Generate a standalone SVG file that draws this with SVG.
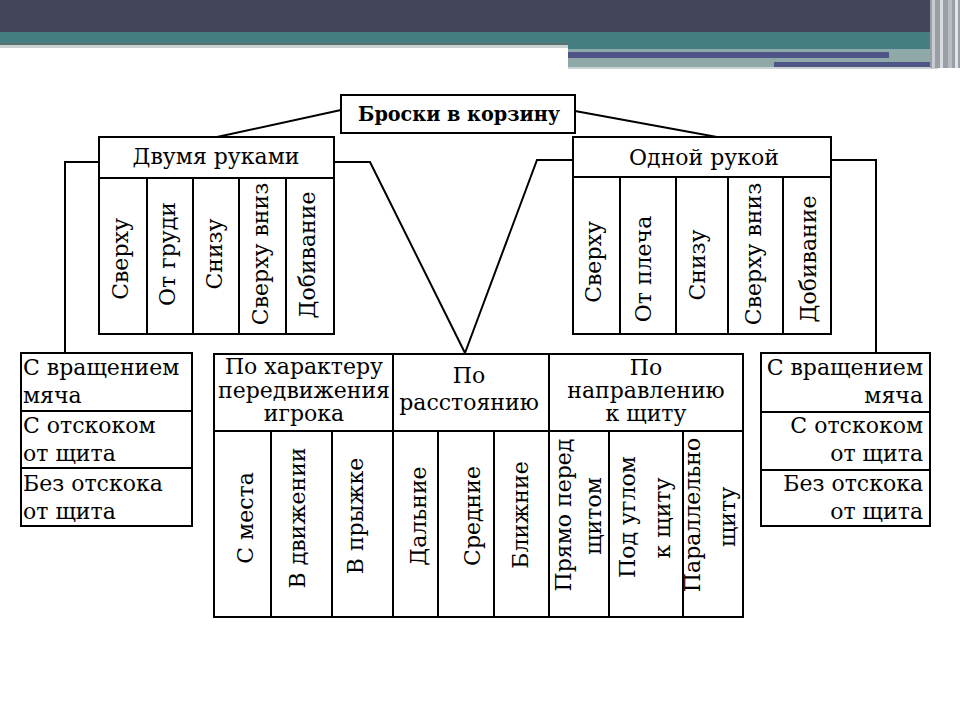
<svg xmlns="http://www.w3.org/2000/svg" width="960" height="720" viewBox="0 0 960 720">
<style>
.b{fill:#fff;stroke:#000;stroke-width:2}
.l{fill:none;stroke:#000;stroke-width:2}
text{font-family:"DejaVu Serif","Liberation Serif",serif;font-size:22px;fill:#000}
.c{text-anchor:middle}
.r{text-anchor:end}
.t{font-weight:bold;font-size:20px}
</style>
<rect width="960" height="720" fill="#fff"/>
<g id="header-bar">
<rect x="0" y="0" width="960" height="32" fill="#43455a"/>
<rect x="0" y="32" width="568" height="11" fill="#457e80"/>
<rect x="0" y="43" width="568" height="2" fill="#5d7070"/>
<rect x="0" y="45" width="568" height="3" fill="#c9d3d3"/>
<rect x="568" y="32" width="392" height="17" fill="#457e80"/>
<rect x="568" y="49" width="370" height="18" fill="#8fa9a9"/>
<rect x="568" y="52" width="321" height="6" fill="#4f5587"/>
<rect x="774" y="62" width="169" height="5" fill="#4f5587"/>
<rect x="568" y="67" width="370" height="2" fill="#c9d3d3"/>
<rect x="930" y="0" width="30" height="68" fill="#9a9ea6"/>
<rect x="932" y="0" width="3" height="68" fill="#c8ccd0"/>
<rect x="940" y="0" width="3" height="68" fill="#d8dce0"/>
<rect x="948" y="0" width="4" height="68" fill="#b8bcc2"/>
<rect x="955" y="0" width="3" height="68" fill="#e0e4e8"/>
</g>
<g id="connectors">
<line class="l" x1="341" y1="110" x2="217" y2="137"/>
<line class="l" x1="575" y1="111" x2="717" y2="137"/>
<polyline class="l" points="99,162 65,162 65,353"/>
<polyline class="l" points="334,162 370,162 465,353"/>
<polyline class="l" points="573,160 537,160 465,353"/>
<polyline class="l" points="831,160 876,160 876,353"/>
</g>
<g id="root">
<rect class="b" x="341" y="95" width="234" height="38"/>
<text class="c t" x="459" y="121" textLength="202" lengthAdjust="spacingAndGlyphs">Броски в корзину</text>
</g>
<g id="two-hands">
<rect class="b" x="99" y="137" width="235" height="197"/>
<line class="l" x1="99" y1="178" x2="334" y2="178"/>
<line class="l" x1="147" y1="178" x2="147" y2="334"/>
<line class="l" x1="193" y1="178" x2="193" y2="334"/>
<line class="l" x1="239" y1="178" x2="239" y2="334"/>
<line class="l" x1="286" y1="178" x2="286" y2="334"/>
<text class="c" x="216" y="164">Двумя руками</text>
<text class="c" transform="translate(128,259) rotate(-90)">Сверху</text>
<text class="c" transform="translate(175,254) rotate(-90)">От груди</text>
<text class="c" transform="translate(222,254) rotate(-90)">Снизу</text>
<text class="c" transform="translate(268,254) rotate(-90)">Сверху вниз</text>
<text class="c" transform="translate(315,255) rotate(-90)">Добивание</text>
</g>
<g id="one-hand">
<rect class="b" x="573" y="137" width="258" height="197"/>
<line class="l" x1="573" y1="177" x2="831" y2="177"/>
<line class="l" x1="620" y1="177" x2="620" y2="334"/>
<line class="l" x1="676" y1="177" x2="676" y2="334"/>
<line class="l" x1="728" y1="177" x2="728" y2="334"/>
<line class="l" x1="783" y1="177" x2="783" y2="334"/>
<text class="c" x="704" y="165">Одной рукой</text>
<text class="c" transform="translate(601,262) rotate(-90)">Сверху</text>
<text class="c" transform="translate(651,269) rotate(-90)">От плеча</text>
<text class="c" transform="translate(705,265) rotate(-90)">Снизу</text>
<text class="c" transform="translate(761,254) rotate(-90)">Сверху вниз</text>
<text class="c" transform="translate(816,259) rotate(-90)">Добивание</text>
</g>
<g id="left-types">
<rect class="b" x="21" y="353" width="171" height="173"/>
<line class="l" x1="21" y1="411" x2="192" y2="411"/>
<line class="l" x1="21" y1="468" x2="192" y2="468"/>
<text x="23" y="375">С вращением</text>
<text x="23" y="403">мяча</text>
<text x="23" y="433">С отскоком</text>
<text x="23" y="461">от щита</text>
<text x="23" y="491">Без отскока</text>
<text x="23" y="519">от щита</text>
</g>
<g id="right-types">
<rect class="b" x="761" y="353" width="169" height="173"/>
<line class="l" x1="761" y1="412" x2="930" y2="412"/>
<line class="l" x1="761" y1="470" x2="930" y2="470"/>
<text class="r" x="923" y="375">С вращением</text>
<text class="r" x="923" y="403">мяча</text>
<text class="r" x="923" y="433">С отскоком</text>
<text class="r" x="923" y="461">от щита</text>
<text class="r" x="923" y="491">Без отскока</text>
<text class="r" x="923" y="519">от щита</text>
</g>
<g id="classification">
<rect class="b" x="214" y="354" width="529" height="263"/>
<line class="l" x1="214" y1="431" x2="743" y2="431"/>
<line class="l" x1="393" y1="354" x2="393" y2="617"/>
<line class="l" x1="549" y1="354" x2="549" y2="617"/>
<line class="l" x1="271" y1="431" x2="271" y2="617"/>
<line class="l" x1="332" y1="431" x2="332" y2="617"/>
<line class="l" x1="438" y1="431" x2="438" y2="617"/>
<line class="l" x1="494" y1="431" x2="494" y2="617"/>
<line class="l" x1="609" y1="431" x2="609" y2="617"/>
<line class="l" x1="683" y1="431" x2="683" y2="617"/>
</g>
<g id="by-movement">
<text class="c" x="304" y="374">По характеру</text>
<text class="c" x="304" y="398">передвижения</text>
<text class="c" x="304" y="421">игрока</text>
<text class="c" transform="translate(253,518) rotate(-90)">С места</text>
<text class="c" transform="translate(305,518) rotate(-90)">В движении</text>
<text class="c" transform="translate(363,516) rotate(-90)">В прыжке</text>
</g>
<g id="by-distance">
<text class="c" x="469" y="383">По</text>
<text class="c" x="469" y="410">расстоянию</text>
<text class="c" transform="translate(426,516) rotate(-90)">Дальние</text>
<text class="c" transform="translate(480,516) rotate(-90)">Средние</text>
<text class="c" transform="translate(528,515) rotate(-90)">Ближние</text>
</g>
<g id="by-direction">
<text class="c" x="646" y="375">По</text>
<text class="c" x="646" y="398">направлению</text>
<text class="c" x="646" y="421">к щиту</text>
<text class="c" transform="translate(571,515) rotate(-90)">Прямо перед</text>
<text class="c" transform="translate(601,516) rotate(-90)">щитом</text>
<text class="c" transform="translate(635,517) rotate(-90)">Под углом</text>
<text class="c" transform="translate(670,518) rotate(-90)">к щиту</text>
<text class="c" transform="translate(700,515) rotate(-90)">Параллельно</text>
<text class="c" transform="translate(735,517) rotate(-90)">щиту</text>
</g>
</svg>
